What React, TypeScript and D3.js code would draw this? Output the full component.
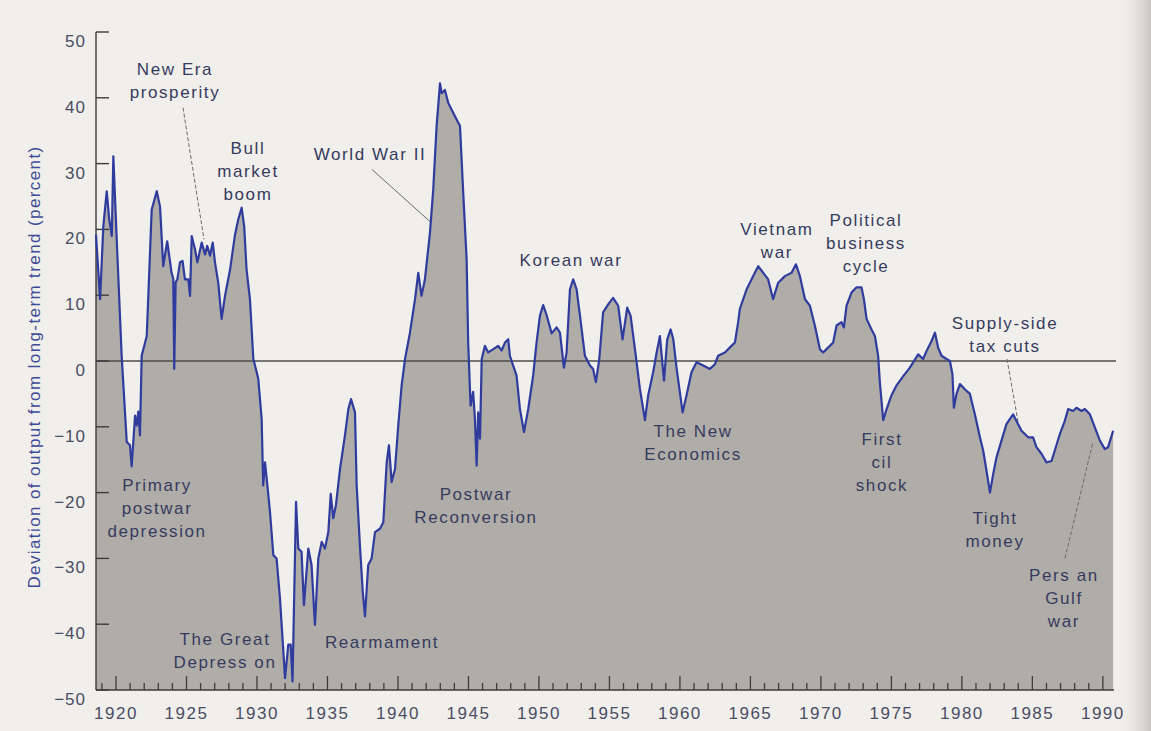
import * as d3 from "d3";

// deviation of output from long-term trend
const years = [
  1918.58, 1918.87, 1919.1, 1919.34, 1919.52, 1919.7, 1919.81, 1920.05, 1920.4, 1920.76,
  1920.99, 1921.11, 1921.35, 1921.47, 1921.58, 1921.7, 1921.82, 1922.18, 1922.53, 1922.89,
  1923.12, 1923.35, 1923.63, 1923.94, 1924.06, 1924.13, 1924.23, 1924.35, 1924.54, 1924.72,
  1924.89, 1925.13, 1925.25, 1925.37, 1925.6, 1925.77, 1926.08, 1926.31, 1926.47, 1926.67,
  1926.86, 1927.02, 1927.25, 1927.49, 1927.73, 1928.09, 1928.44, 1928.67, 1928.91, 1929.09,
  1929.26, 1929.5, 1929.74, 1929.98, 1930.09, 1930.33, 1930.44, 1930.57, 1930.69, 1930.92,
  1931.16, 1931.39, 1931.63, 1931.99, 1932.22, 1932.39, 1932.52, 1932.77, 1932.93, 1933.16,
  1933.33, 1933.64, 1933.87, 1934.11, 1934.35, 1934.59, 1934.82, 1935.06, 1935.23, 1935.41,
  1935.6, 1935.89, 1936.24, 1936.48, 1936.67, 1936.95, 1937.07, 1937.3, 1937.5, 1937.66,
  1937.89, 1938.13, 1938.37, 1938.72, 1938.96, 1939.2, 1939.36, 1939.55, 1939.79, 1940.02,
  1940.26, 1940.5, 1940.85, 1941.21, 1941.44, 1941.67, 1941.91, 1942.27, 1942.5, 1942.74,
  1942.98, 1943.1, 1943.33, 1943.57, 1943.81, 1944.04, 1944.4, 1944.63, 1944.87, 1944.98,
  1945.15, 1945.33, 1945.46, 1945.58, 1945.69, 1945.82, 1945.94, 1946.17, 1946.4, 1946.76,
  1947.11, 1947.35, 1947.59, 1947.82, 1947.94, 1948.17, 1948.41, 1948.65, 1948.94, 1949.24,
  1949.59, 1949.83, 1950.07, 1950.3, 1950.54, 1950.9, 1951.25, 1951.49, 1951.77, 1951.96,
  1952.2, 1952.43, 1952.67, 1952.91, 1953.26, 1953.62, 1953.84, 1954.04, 1954.28, 1954.55,
  1954.91, 1955.26, 1955.62, 1955.93, 1956.26, 1956.5, 1956.81, 1957.16, 1957.52, 1957.75,
  1958.1, 1958.35, 1958.58, 1958.87, 1959.1, 1959.34, 1959.53, 1959.77, 1960.19, 1960.47,
  1960.82, 1961.18, 1961.65, 1962.13, 1962.48, 1962.71, 1963.19, 1963.66, 1963.9, 1964.13,
  1964.25, 1964.73, 1965.2, 1965.55, 1965.91, 1966.26, 1966.61, 1966.97, 1967.45, 1967.92,
  1968.23, 1968.51, 1968.87, 1969.22, 1969.57, 1969.93, 1970.16, 1970.4, 1970.87, 1971.11,
  1971.46, 1971.63, 1971.82, 1972.17, 1972.53, 1972.88, 1973.05, 1973.24, 1973.59, 1973.83,
  1974.06, 1974.18, 1974.42, 1974.66, 1975.01, 1975.37, 1975.84, 1976.31, 1976.9, 1977.25,
  1977.49, 1977.84, 1978.09, 1978.32, 1978.56, 1978.91, 1979.15, 1979.33, 1979.43, 1979.62,
  1979.86, 1980.21, 1980.57, 1980.92, 1981.28, 1981.51, 1981.75, 1981.99, 1982.22, 1982.46,
  1982.81, 1983.16, 1983.63, 1983.87, 1984.23, 1984.7, 1985.05, 1985.29, 1985.65, 1986.0,
  1986.36, 1986.59, 1986.95, 1987.3, 1987.54, 1987.89, 1988.13, 1988.48, 1988.72, 1989.08,
  1989.43, 1989.79, 1990.14, 1990.37, 1990.73,
];

const deviation = [
  19.2, 9.4, 20.5, 25.8, 21.5, 19, 31.1, 18.5, 0.8, -12.3,
  -12.8, -16, -8.3, -9.8, -7.7, -11.3, 0.8, 3.8, 23, 25.8,
  23.5, 14.4, 18.2, 13.4, 12.5, -1.2, 12, 12.4, 15, 15.2,
  12.4, 12.4, 9.9, 19, 17, 15, 18, 16.2, 17.5, 16,
  18, 15, 11.9, 6.4, 9.9, 13.9, 19.2, 21.5, 23.3, 20.5,
  13.9, 9.4, 0.3, -1.7, -2.7, -8.8, -18.9, -15.4, -17.9, -22.9,
  -29.5, -30, -36.1, -48.2, -43.1, -43.1, -48.7, -21.4, -28.5, -29,
  -37.1, -28.5, -31, -40.1, -30, -27.5, -28.5, -26, -20.2, -23.9,
  -21.9, -16.4, -11.3, -7.3, -5.8, -7.8, -18.9, -28, -35, -38.8,
  -31, -30, -26, -25.5, -24.5, -15.4, -12.8, -18.4, -16.4, -9.8,
  -3.7, 0.3, 4.3, 9.4, 13.4, 9.9, 12.4, 19.5, 26, 35.7,
  42.2, 40.7, 41.2, 39.2, 38.2, 37.2, 35.7, 25.5, 15.5, 2.8,
  -6.8, -4.7, -8.8, -15.9, -7.8, -11.8, 0.3, 2.3, 1.3, 1.8,
  2.3, 1.6, 2.8, 3.3, 0.8, -0.7, -2.2, -7.3, -10.8, -7.3,
  -2.2, 2.8, 6.9, 8.5, 7, 4.2, 5.1, 4.3, -1, 1.3,
  10.9, 12.4, 10.9, 6.9, 0.8, -0.7, -1.2, -3.2, 0.3, 7.4,
  8.6, 9.6, 8.4, 3.3, 8.1, 6.9, 1.8, -4.2, -9, -5.2,
  -1.7, 1.3, 3.8, -3, 3.3, 4.8, 3.3, -1.2, -7.8, -5.2,
  -1.7, -0.2, -0.7, -1.2, -0.5, 0.8, 1.3, 2.3, 2.8, 5.9,
  7.9, 10.9, 12.9, 14.4, 13.4, 12.4, 9.4, 11.9, 12.9, 13.4,
  14.7, 12.9, 9.4, 8.4, 5.4, 1.8, 1.3, 1.8, 2.8, 5.4,
  5.9, 5.1, 8.4, 10.4, 11.2, 11.2, 9.4, 6.4, 4.8, 3.8,
  0.8, -3.2, -9, -7.3, -5.2, -3.7, -2.3, -1, 1, 0.3,
  1.5, 3, 4.3, 2, 0.8, 0.3, 0, -2, -7.1, -5,
  -3.5, -4.3, -5, -8.1, -11.6, -13.6, -16.7, -20, -17.2, -14.6,
  -12.1, -9.6, -8.1, -9.1, -10.6, -11.6, -11.6, -13.1, -14.1, -15.4,
  -15.2, -13.6, -11.1, -9.1, -7.3, -7.6, -7.1, -7.6, -7.3, -8.1,
  -10.1, -12.1, -13.4, -13.1, -10.6,
];

const yTickValues = [50, 40, 30, 20, 10, 0, -10, -20, -30, -40, -50];
const xLabelYears = [1920, 1925, 1930, 1935, 1940, 1945, 1950, 1955, 1960, 1965, 1970, 1975, 1980, 1985, 1990];

// event labels, anchored in data units (year, percent) at the first baseline
const annotations = [
  { lines: ["New Era", "prosperity"], year: 1924.18, value: 43.5 },
  { lines: ["Bull", "market", "boom"], year: 1929.36, value: 31.5 },
  { lines: ["World War II"], year: 1938.02, value: 30.5 },
  { lines: ["Korean war"], year: 1952.27, value: 14.4 },
  { lines: ["Vietnam", "war"], year: 1966.88, value: 19.2 },
  { lines: ["Political", "business", "cycle"], year: 1973.2, value: 20.5 },
  { lines: ["Supply-side", "tax cuts"], year: 1983.06, value: 4.8 },
  { lines: ["Primary", "postwar", "depression"], year: 1922.91, value: -19.7 },
  { lines: ["The Great", "Depress on"], year: 1927.73, value: -43.2 },
  { lines: ["Rearmament"], year: 1938.87, value: -43.6 },
  { lines: ["Postwar", "Reconversion"], year: 1945.53, value: -21.2 },
  { lines: ["The New", "Economics"], year: 1960.93, value: -11.5 },
  { lines: ["First", "cil", "shock"], year: 1974.33, value: -12.7 },
  { lines: ["Tight", "money"], year: 1982.35, value: -24.7 },
  { lines: ["Pers an", "Gulf", "war"], year: 1987.24, value: -33.5 },
];

const leaders = [
  { x1: 1924.75, v1: 38.5, x2: 1926.24, v2: 18.5, dashed: true },
  { x1: 1938.16, v1: 29.1, x2: 1942.27, v2: 21.2, dashed: false },
  { x1: 1983.2, v1: 0.3, x2: 1983.98, v2: -9.2, dashed: true },
  { x1: 1987.31, v1: -30, x2: 1989.3, v2: -12.3, dashed: true },
];

function App() {
  const width = 1151;
  const height = 731;

  const marginTop = 32;
  const marginRight = 37;
  const marginBottom = 41;
  const marginLeft = 96;

  const font = "'Liberation Sans', Arial, Helvetica, sans-serif";

  const xScale = d3.scaleLinear()
    .domain([1918.58, 1990.79])
    .range([marginLeft, width - marginRight]);

  const yScale = d3.scaleLinear()
    .domain([-50, 50])
    .range([height - marginBottom, marginTop]);

  const data = years.map((yr, i) => ({ yr, v: deviation[i] }));

  const area = d3.area<{ yr: number; v: number }>()
    .x(d => xScale(d.yr))
    .y0(yScale(-50))
    .y1(d => yScale(d.v));

  const line = d3.line<{ yr: number; v: number }>()
    .x(d => xScale(d.yr))
    .y(d => yScale(d.v));

  const minorYears = d3.range(1919, 1991);
  const fmt = d3.format("d");
  const lineGap = 23;

  return (
    <svg
      width={width}
      height={height}
      viewBox={`0 0 ${width} ${height}`}
      style={{ position: "fixed", left: 0, top: 0, display: "block" }}
    >
      <defs>
        <linearGradient id="edge" x1="0" x2="1" y1="0" y2="0">
          <stop offset="0" stopColor="#efece7" stopOpacity="0" />
          <stop offset="1" stopColor="#c9c4be" stopOpacity="1" />
        </linearGradient>
      </defs>
      <rect x={0} y={0} width={width} height={height} fill="#f1efeb" />
      <rect x={1118} y={0} width={33} height={height} fill="url(#edge)" />

      {/* shaded area under the curve */}
      <path d={area(data) ?? ""} fill="#b0ada9" />

      {/* zero line */}
      <line
        x1={marginLeft}
        x2={width - marginRight + 2}
        y1={yScale(0)}
        y2={yScale(0)}
        stroke="#4d4d4d"
        strokeWidth={1.6}
      />

      {/* y axis */}
      <g stroke="#3c3c3c" strokeWidth={1.4}>
        <line x1={marginLeft} x2={marginLeft} y1={yScale(50)} y2={yScale(-50)} />
        {yTickValues.map(t => (
          <line key={t} x1={marginLeft} x2={marginLeft + 13} y1={yScale(t)} y2={yScale(t)} />
        ))}
      </g>
      <g fontFamily={font} fontSize={17} fill="#4a4d63" letterSpacing="1px" textAnchor="end">
        {yTickValues.map(t => (
          <text key={t} x={marginLeft - 10} y={yScale(t) + 15}>
            {t < 0 ? `\u2212${-t}` : t}
          </text>
        ))}
      </g>
      <text
        transform={`translate(40, ${(yScale(50) + yScale(-50)) / 2 + 6}) rotate(-90)`}
        textAnchor="middle"
        fontFamily={font}
        fontSize={17}
        letterSpacing="1.4px"
        fill="#3f4b96"
      >
        Deviation of output from long-term trend (percent)
      </text>

      {/* x axis */}
      <g stroke="#3c3c3c" strokeWidth={1.3}>
        <line x1={marginLeft} x2={width - marginRight} y1={yScale(-50)} y2={yScale(-50)} />
        {minorYears.map(yr => (
          <line
            key={yr}
            x1={xScale(yr)}
            x2={xScale(yr)}
            y1={yScale(-50)}
            y2={yScale(-50) - (yr % 5 === 0 ? 14 : 7)}
          />
        ))}
      </g>
      <g fontFamily={font} fontSize={17} fill="#4a4d63" letterSpacing="1.5px" textAnchor="middle">
        {xLabelYears.map(yr => (
          <text key={yr} x={xScale(yr)} y={yScale(-50) + 29}>{fmt(yr)}</text>
        ))}
      </g>

      {/* leader lines */}
      <g stroke="#6a6a72" strokeWidth={1}>
        {leaders.map((l, i) => (
          <line
            key={i}
            x1={xScale(l.x1)}
            y1={yScale(l.v1)}
            x2={xScale(l.x2)}
            y2={yScale(l.v2)}
            strokeDasharray={l.dashed ? "4,2" : undefined}
          />
        ))}
      </g>

      {/* the series */}
      <path d={line(data) ?? ""} fill="none" stroke="#2f3c9e" strokeWidth={2.2} strokeLinejoin="round" />

      {/* event labels */}
      <g fontFamily={font} fontSize={17} fill="#363b5e" letterSpacing="1.6px" textAnchor="middle">
        {annotations.map((a, i) => (
          <text key={i} x={xScale(a.year)} y={yScale(a.value)}>
            {a.lines.map((ln, j) => (
              <tspan key={j} x={xScale(a.year)} dy={j === 0 ? 0 : lineGap}>{ln}</tspan>
            ))}
          </text>
        ))}
      </g>
    </svg>
  );
}

export default App;
